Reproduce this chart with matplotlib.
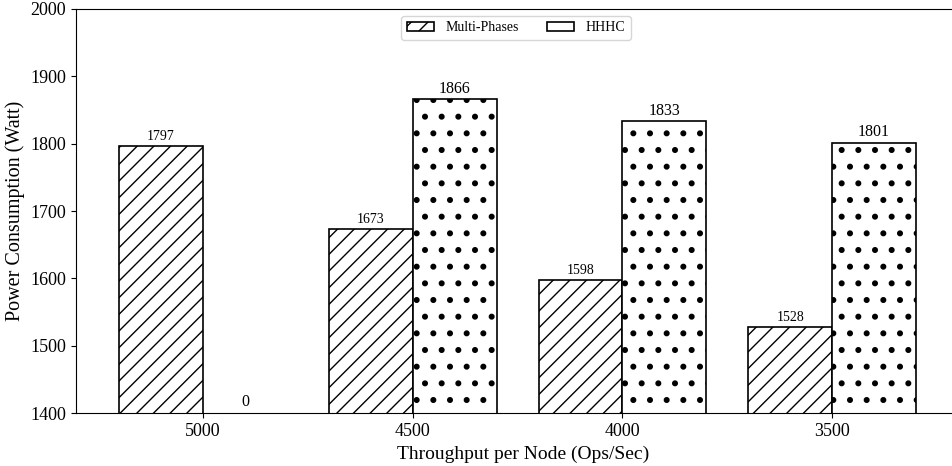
import matplotlib
matplotlib.use("Agg")
import matplotlib.pyplot as plt
import numpy as np

plt.rcParams['font.family'] = ['Liberation Serif', 'DejaVu Serif']
plt.rcParams['hatch.linewidth'] = 1.0

categories = ['5000', '4500', '4000', '3500']
multi_phases = [1797, 1673, 1598, 1528]
hhhc = [0, 1866, 1833, 1801]

fig = plt.figure(figsize=(9.52, 4.66), dpi=100)
# axes extends slightly past the right edge of the figure (no right spine visible)
ax = fig.add_axes([0.0798, 0.1137, 0.939, 0.867])

x = np.arange(len(categories))
w = 0.4
b1 = ax.bar(x, multi_phases, width=-w, align='edge', color='white',
            edgecolor='black', hatch='//', label='Multi-Phases', linewidth=1.2)
b2 = ax.bar(x, hhhc, width=w, align='edge', color='white',
            edgecolor='black', hatch='.', label='HHHC', linewidth=1.2)
for p in b2:
    try:
        p.set_hatch_linewidth(1.9)
    except AttributeError:
        pass

ax.set_ylim(1400, 2000)
ax.set_xlim(-0.606, 3.657)

for rect, v in zip(b1, multi_phases):
    ax.text(rect.get_x() + rect.get_width() / 2, v + 4, str(v),
            ha='center', va='bottom', fontsize=10)
for rect, v in zip(b2, hhhc):
    y = max(v, ax.get_ylim()[0]) + 4
    ax.text(rect.get_x() + rect.get_width() / 2, y, str(v),
            ha='center', va='bottom', fontsize=11.5)

ax.set_xticks(x)
ax.set_xticklabels(categories, fontsize=13)
ax.set_yticks(np.arange(1400, 2001, 100))
ax.tick_params(axis='y', labelsize=13)
ax.set_xlabel('Throughput per Node (Ops/Sec)', fontsize=14)
ax.set_ylabel('Power Consumption (Watt)', fontsize=14.5)

ax.legend(loc='upper center', bbox_to_anchor=(0.492, 1.0), ncol=2, fontsize=10)

fig.savefig('out.png', dpi=100)
